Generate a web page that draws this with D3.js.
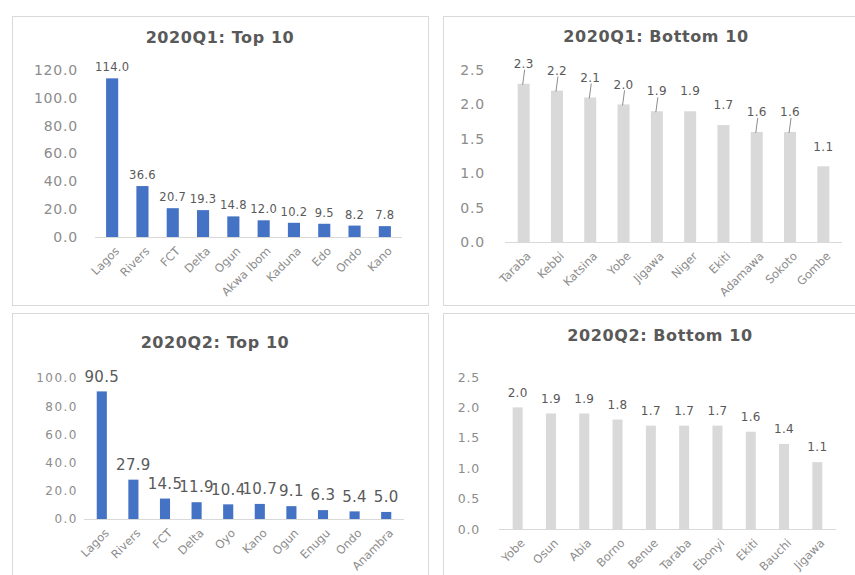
<!DOCTYPE html>
<html><head><meta charset="utf-8">
<script src="https://cdn.jsdelivr.net/npm/d3@7"></script>
<style>
html,body{margin:0;padding:0;background:#fff;}
svg{display:block;}
</style></head>
<body>
<script>
// ---------- DATA ----------
const titles = ["2020Q1: Top 10", "2020Q1: Bottom 10", "2020Q2: Top 10", "2020Q2: Bottom 10"];

const q1TopStates = ["Lagos","Rivers","FCT","Delta","Ogun","Akwa Ibom","Kaduna","Edo","Ondo","Kano"];
const q1TopValues = [114.0, 36.6, 20.7, 19.3, 14.8, 12.0, 10.2, 9.5, 8.2, 7.8];
const q1TopTicks = [0, 20, 40, 60, 80, 100, 120];

const q1BottomStates = ["Taraba","Kebbi","Katsina","Yobe","Jigawa","Niger","Ekiti","Adamawa","Sokoto","Gombe"];
const q1BottomValues = [2.3, 2.2, 2.1, 2.0, 1.9, 1.9, 1.7, 1.6, 1.6, 1.1];
const q1BottomTicks = [0, 0.5, 1.0, 1.5, 2.0, 2.5];
const q1BottomLeader = ["Taraba","Kebbi","Katsina","Yobe","Jigawa","Adamawa","Sokoto"];

const q2TopStates = ["Lagos","Rivers","FCT","Delta","Oyo","Kano","Ogun","Enugu","Ondo","Anambra"];
const q2TopValues = [90.5, 27.9, 14.5, 11.9, 10.4, 10.7, 9.1, 6.3, 5.4, 5.0];
const q2TopTicks = [0, 20, 40, 60, 80, 100];

const q2BottomStates = ["Yobe","Osun","Abia","Borno","Benue","Taraba","Ebonyi","Ekiti","Bauchi","Jigawa"];
const q2BottomValues = [2.0, 1.9, 1.9, 1.8, 1.7, 1.7, 1.7, 1.6, 1.4, 1.1];
const q2BottomTicks = [0, 0.5, 1.0, 1.5, 2.0, 2.5];

// ---------- DRAW ----------
const W = 855, H = 575;
const svg = d3.select("body").append("svg").attr("width", W).attr("height", H);
const FONT = "DejaVu Sans, Verdana, sans-serif";

function drawPanel(o) {
  const g = svg.append("g");
  // frame
  g.append("rect").attr("x", o.frame[0] + 0.5).attr("y", o.frame[1] + 0.5)
    .attr("width", o.frame[2]).attr("height", o.frame[3])
    .attr("fill", "#fff").attr("stroke", "#d9d9d9").attr("stroke-width", 1);

  // title
  g.append("text").attr("x", o.titleX).attr("y", o.titleY)
    .attr("text-anchor", "middle").attr("font-family", FONT)
    .attr("font-weight", "bold").attr("font-size", 16).attr("letter-spacing", 0.6)
    .attr("fill", "#595959").text(o.title);

  const y = d3.scaleLinear().domain([0, d3.max(o.ticks)]).range([o.y0, o.yTop]);
  const x = d3.scaleBand().domain(o.states).range([o.x0, o.x1]).paddingInner(o.pad).paddingOuter(o.pad / 2);

  // y axis labels
  const ya = g.append("g").attr("transform", `translate(${o.tickX},0)`)
    .call(d3.axisLeft(y).tickValues(o.ticks).tickFormat(d3.format(".1f")).tickSize(0).tickPadding(0));
  ya.select(".domain").remove();
  ya.selectAll("text").attr("font-family", FONT).attr("font-size", o.tickFont)
    .attr("letter-spacing", o.tickSpacing).attr("fill", "#8c8c8c");

  // bars
  const data = o.states.map((s, i) => ({s, v: o.values[i]}));
  g.selectAll("rect.bar").data(data).enter().append("rect").attr("class", "bar")
    .attr("x", d => x(d.s)).attr("width", x.bandwidth())
    .attr("y", d => y(d.v)).attr("height", d => o.y0 - y(d.v))
    .attr("fill", o.color);

  // baseline
  g.append("line").attr("x1", o.x0 - 2).attr("x2", o.x1 + 2)
    .attr("y1", o.y0 + 0.5).attr("y2", o.y0 + 0.5)
    .attr("stroke", "#d9d9d9").attr("stroke-width", 1);

  // leader lines
  if (o.leader) {
    g.selectAll("line.lead").data(data.filter(d => o.leader.includes(d.s))).enter()
      .append("line").attr("class", "lead")
      .attr("x1", d => x(d.s) + x.bandwidth() / 2 + 1).attr("y1", d => y(d.v) - o.labelOff + 6)
      .attr("x2", d => x(d.s) + x.bandwidth() / 2 - 1).attr("y2", d => y(d.v) + 1)
      .attr("stroke", "#8c8c8c").attr("stroke-width", 1);
  }

  // value labels
  g.selectAll("text.val").data(data).enter().append("text").attr("class", "val")
    .attr("x", d => x(d.s) + x.bandwidth() / 2).attr("y", d => y(d.v) - o.labelOff)
    .attr("dy", "0.35em").attr("text-anchor", "middle")
    .attr("font-family", FONT).attr("font-size", o.valFont).attr("letter-spacing", o.valSpacing)
    .attr("fill", "#595959").text(d => d3.format(".1f")(d.v));

  // category labels
  const xa = g.append("g").attr("transform", `translate(0,${o.y0})`)
    .call(d3.axisBottom(x).tickSize(0).tickPadding(0));
  xa.select(".domain").remove();
  xa.selectAll("text")
    .attr("font-family", FONT).attr("font-size", o.catFont).attr("fill", "#8c8c8c")
    .attr("text-anchor", "end").attr("dy", "0.35em").attr("y", 0)
    .attr("transform", "translate(5,12) rotate(-45)");
}

drawPanel({
  frame: [12, 16, 416, 289], title: titles[0], titleX: 220, titleY: 43,
  states: q1TopStates, values: q1TopValues, ticks: q1TopTicks,
  y0: 237, yTop: 70, x0: 97, x1: 400, pad: 0.6, tickX: 78,
  color: "#4472c4", labelOff: 11, valFont: 11.5, valSpacing: 0.3,
  tickFont: 14, tickSpacing: 0.8, catFont: 11.5
});
drawPanel({
  frame: [443, 16, 420, 289], title: titles[1], titleX: 656, titleY: 42,
  states: q1BottomStates, values: q1BottomValues, ticks: q1BottomTicks,
  y0: 242, yTop: 70, x0: 507, x1: 840, pad: 0.64, tickX: 485,
  color: "#d9d9d9", labelOff: 20, valFont: 12, valSpacing: 0.3, leader: q1BottomLeader,
  tickFont: 14, tickSpacing: 0.8, catFont: 11.5
});
drawPanel({
  frame: [12, 313, 416, 270], title: titles[2], titleX: 215, titleY: 348,
  states: q2TopStates, values: q2TopValues, ticks: q2TopTicks,
  y0: 519, yTop: 378, x0: 86, x1: 402, pad: 0.68, tickX: 78,
  color: "#4472c4", labelOff: 15, valFont: 15, valSpacing: 0.3,
  tickFont: 12, tickSpacing: 1.5, catFont: 11.5
});
drawPanel({
  frame: [443, 313, 420, 270], title: titles[3], titleX: 660, titleY: 341,
  states: q2BottomStates, values: q2BottomValues, ticks: q2BottomTicks,
  y0: 529, yTop: 377, x0: 501, x1: 834, pad: 0.7, tickX: 480,
  color: "#d9d9d9", labelOff: 15, valFont: 12, valSpacing: 0.3,
  tickFont: 12.5, tickSpacing: 0.8, catFont: 11.5
});
</script>
</body></html>
